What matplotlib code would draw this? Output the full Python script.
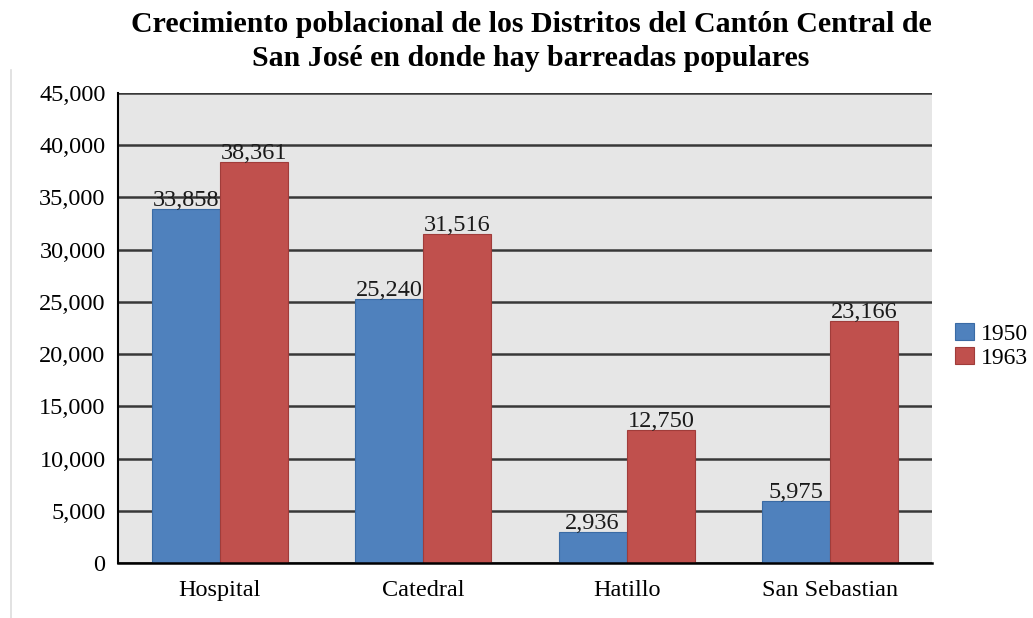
import matplotlib
matplotlib.use("Agg")
import matplotlib.pyplot as plt
import numpy as np
from matplotlib.lines import Line2D

categories = ["Hospital", "Catedral", "Hatillo", "San Sebastian"]
series_names = ["1950", "1963"]
values_1950 = [33858, 25240, 2936, 5975]
values_1963 = [38361, 31516, 12750, 23166]
colors = ["#4F81BD", "#C0504D"]
edge_colors = ["#3A6BA5", "#A03C3A"]
yticks = [0, 5000, 10000, 15000, 20000, 25000, 30000, 35000, 40000, 45000]

plt.rcParams['font.family'] = ['Liberation Serif', 'DejaVu Serif']

fig = plt.figure(figsize=(10.33, 6.18), dpi=100)
ax = fig.add_axes([118/1033, 1-563/618, (932-118)/1033, (563-93)/618])
ax.set_facecolor("#E6E6E6")

FS = 17.5
x = np.arange(len(categories))
w = 0.335
bars = []
for i, (vals, name) in enumerate(zip([values_1950, values_1963], series_names)):
    b = ax.bar(x + (i - 0.5) * w, vals, width=w, color=colors[i],
               edgecolor=edge_colors[i], linewidth=0.8, label=name, zorder=3)
    bars.append(b)
    for xi, v in zip(x + (i - 0.5) * w, vals):
        ax.text(xi, v + 290, f"{v:,}", ha="center", va="baseline",
                fontsize=FS, color="#1a1a1a", zorder=4)

ax.set_xlim(-0.5, len(categories) - 0.5)
ax.set_ylim(0, 45000)
ax.set_yticks(yticks)
ax.set_yticklabels([f"{t:,}" for t in yticks], fontsize=FS)
ax.set_xticks(x)
ax.set_xticklabels(categories, fontsize=FS)
ax.tick_params(axis="both", length=0)
ax.tick_params(axis="y", pad=9)
ax.tick_params(axis="x", pad=12)
ax.yaxis.grid(True, color="#383838", linewidth=1.8, zorder=1)
ax.set_axisbelow(True)
for s in ["top", "right"]:
    ax.spines[s].set_visible(False)
ax.spines["left"].set_color("black")
ax.spines["left"].set_linewidth(1.5)
ax.spines["bottom"].set_color("black")
ax.spines["bottom"].set_linewidth(1.8)
ax.spines["bottom"].set_zorder(5)

fig.text(531/1033, 1-24/618, "Crecimiento poblacional de los Distritos del Cantón Central de",
         ha="center", va="center", fontsize=21.5, fontweight="bold")
fig.text(531/1033, 1-59/618, "San José en donde hay barreadas populares",
         ha="center", va="center", fontsize=21.5, fontweight="bold")

leg = fig.legend(handles=bars, labels=series_names, loc="center left",
                 bbox_to_anchor=(955/1033, 1-346/618), frameon=False,
                 fontsize=17, handlelength=0.8, handleheight=0.75,
                 handletextpad=0.3, labelspacing=0.1, borderaxespad=0,
                 borderpad=0)

fig.add_artist(Line2D([11/1033, 11/1033], [0, 1-70/618], color="#DDDDDD", linewidth=1.2))

fig.savefig("out.png", dpi=100, facecolor="white")
